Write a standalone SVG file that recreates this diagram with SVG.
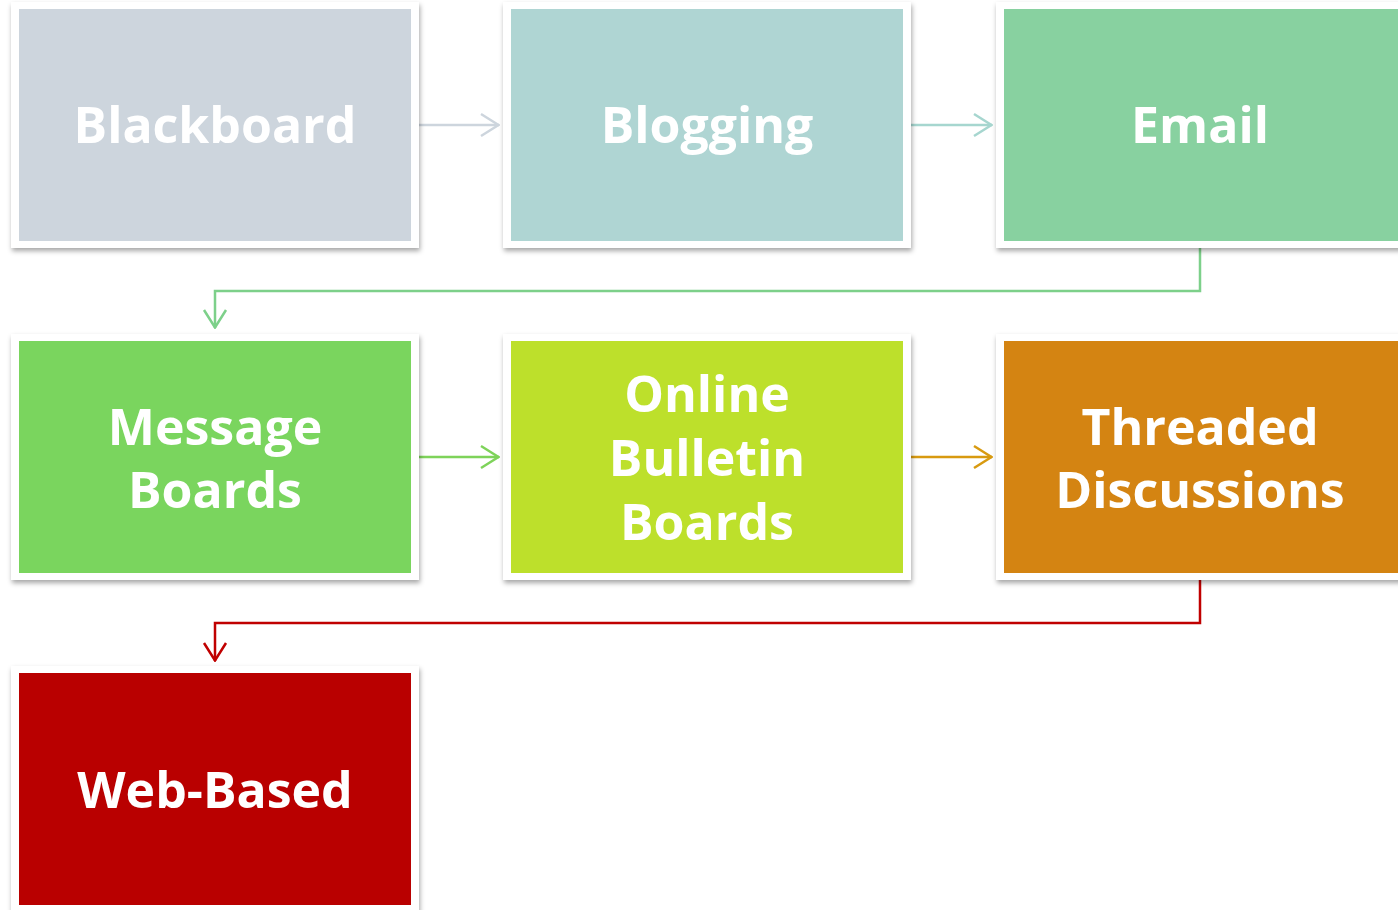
<svg xmlns="http://www.w3.org/2000/svg" width="1398" height="910" viewBox="0 0 1398 910">
<defs>
<filter id="sh" x="-5%" y="-5%" width="112%" height="115%">
<feDropShadow dx="1" dy="3" stdDeviation="2.5" flood-color="#000" flood-opacity="0.35"/>
</filter>
<marker id="ah" viewBox="0 0 20 26" refX="19" refY="13" markerWidth="20" markerHeight="26" markerUnits="userSpaceOnUse" orient="auto">
<path d="M1,2 L18.5,13 L1,24" fill="none" stroke="context-stroke" stroke-width="2.5"/>
</marker>
</defs>
<style>
.fr{fill:#fff;filter:url(#sh)}
.t{font-family:"Open Sans","DejaVu Sans",sans-serif;font-weight:bold;font-size:50px;fill:#fff;text-anchor:middle}
.c{fill:none;stroke-width:2.5}
</style>
<rect width="1398" height="910" fill="#fff"/>
<g id="connectors">
<path class="c" d="M419,125 H499" stroke="#cdd5dd" marker-end="url(#ah)"/>
<path class="c" d="M911,125 H992" stroke="#a6d6cf" marker-end="url(#ah)"/>
<path class="c" d="M1200,248 V291 H215 V328" stroke="#7dd08a" marker-end="url(#ah)"/>
<path class="c" d="M419,457 H499" stroke="#7ed35a" marker-end="url(#ah)"/>
<path class="c" d="M911,457 H992" stroke="#d89a10" marker-end="url(#ah)"/>
<path class="c" d="M1200,580 V623 H215 V661" stroke="#c00000" marker-end="url(#ah)"/>
</g>
<g id="n1"><rect class="fr" x="11" y="2" width="408" height="246"/><rect x="19" y="9" width="392" height="232" fill="#cdd5dd"/><text class="t" x="215" y="143">Blackboard</text></g>
<g id="n2"><rect class="fr" x="503" y="2" width="408" height="246"/><rect x="511" y="9" width="392" height="232" fill="#afd5d3"/><text class="t" x="707" y="143">Blogging</text></g>
<g id="n3"><rect class="fr" x="996" y="2" width="408" height="246"/><rect x="1004" y="9" width="400" height="232" fill="#88d1a0"/><text class="t" x="1200" y="143">Email</text></g>
<g id="n4"><rect class="fr" x="11" y="334" width="408" height="246"/><rect x="19" y="341" width="392" height="232" fill="#7ad55e"/><text class="t" x="215" y="445">Message</text><text class="t" x="215" y="508">Boards</text></g>
<g id="n5"><rect class="fr" x="503" y="334" width="408" height="246"/><rect x="511" y="341" width="392" height="232" fill="#bde02b"/><text class="t" x="707" y="412">Online</text><text class="t" x="707" y="476">Bulletin</text><text class="t" x="707" y="540">Boards</text></g>
<g id="n6"><rect class="fr" x="996" y="334" width="408" height="246"/><rect x="1004" y="341" width="400" height="232" fill="#d48412"/><text class="t" x="1200" y="445">Threaded</text><text class="t" x="1200" y="508">Discussions</text></g>
<g id="n7"><rect class="fr" x="11" y="666" width="408" height="250"/><rect x="19" y="673" width="392" height="232" fill="#b90000"/><text class="t" x="215" y="808">Web-Based</text></g>
</svg>
